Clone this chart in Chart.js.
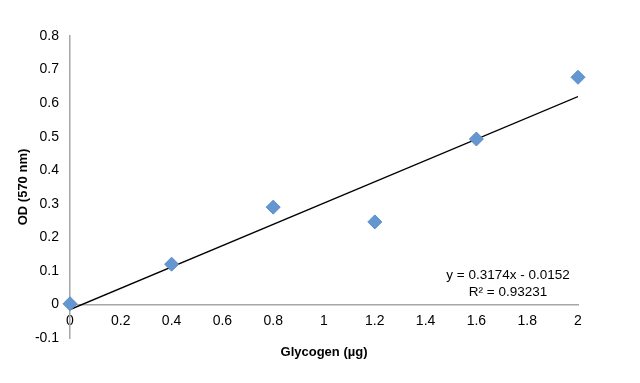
<!DOCTYPE html>
<html>
<head>
<meta charset="utf-8">
<script src="https://cdn.jsdelivr.net/npm/chart.js@4"></script>
<style>
html,body{margin:0;padding:0;background:#fff;}
#wrap{width:640px;height:383px;}
</style>
</head>
<body>
<div id="wrap"><canvas id="c" width="640" height="383"></canvas></div>
<script>
const glycogen = [0, 0.4, 0.8, 1.2, 1.6, 2];
const od = [0.002, 0.12, 0.29, 0.246, 0.493, 0.677];
const trendX = [0, 2];
const trendY = [-0.0152, 0.6196];
const equationText = ["y = 0.3174x - 0.0152", "R\u00b2 = 0.93231"];
const xTitle = "Glycogen (\u00b5g)";
const yTitle = "OD (570 nm)";

const eqPlugin = {
  id: 'eq',
  afterDraw(chart) {
    const ctx = chart.ctx;
    ctx.save();
    ctx.font = '13.5px "Liberation Sans", Arial, sans-serif';
    ctx.fillStyle = '#000';
    ctx.textAlign = 'center';
    ctx.textBaseline = 'middle';
    ctx.fillText(equationText[0], 508, 275);
    ctx.fillText(equationText[1], 508, 292);
    ctx.restore();
  }
};

const fmt = (v) => String(Math.round(v * 10) / 10);

new Chart(document.getElementById('c'), {
  type: 'scatter',
  data: {
    datasets: [
      {
        label: 'Trend',
        type: 'line',
        data: trendX.map((x, i) => ({x, y: trendY[i]})),
        borderColor: '#000',
        borderWidth: 1.3,
        pointRadius: 0,
        fill: false,
        order: 2
      },
      {
        label: 'OD',
        data: glycogen.map((x, i) => ({x, y: od[i]})),
        pointStyle: 'rectRot',
        pointRadius: 7,
        pointHoverRadius: 7,
        backgroundColor: '#6497cf',
        borderColor: '#5a8cc6',
        borderWidth: 1,
        clip: false,
        order: 1
      }
    ]
  },
  plugins: [eqPlugin],
  options: {
    responsive: false,
    animation: false,
    events: [],
    layout: {padding: {top: 36, right: 62, bottom: 45, left: 12}},
    plugins: {legend: {display: false}, tooltip: {enabled: false}},
    scales: {
      x: {
        type: 'linear',
        position: {y: 0},
        min: 0, max: 2,
        grid: {display: false, drawTicks: false},
        border: {color: '#a6a6a6', width: 1.5},
        ticks: {
          stepSize: 0.2,
          color: '#000',
          padding: 8,
          callback: fmt,
          font: {family: '"Liberation Sans", Arial, sans-serif', size: 14}
        },
        title: {
          display: true,
          text: xTitle,
          color: '#000',
          padding: {top: 7},
          font: {family: '"Liberation Sans", Arial, sans-serif', size: 13, weight: 'bold'}
        }
      },
      y: {
        type: 'linear',
        min: -0.1, max: 0.8,
        grid: {display: false, drawTicks: false},
        border: {color: '#a6a6a6', width: 1.5},
        afterFit: (s) => { s.width = 58; },
        ticks: {
          stepSize: 0.1,
          color: '#000',
          padding: 11,
          callback: fmt,
          font: {family: '"Liberation Sans", Arial, sans-serif', size: 14}
        },
        title: {
          display: true,
          text: yTitle,
          color: '#000',
          padding: {bottom: 2},
          font: {family: '"Liberation Sans", Arial, sans-serif', size: 13, weight: 'bold'}
        }
      }
    }
  }
});
</script>
</body>
</html>
